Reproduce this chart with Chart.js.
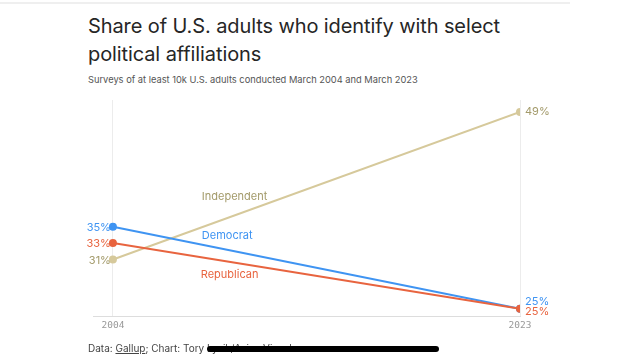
<!DOCTYPE html>
<html>
<head>
<meta charset="utf-8">
<script src="https://cdn.jsdelivr.net/npm/chart.js@4"></script>
<style>
  body { margin: 0; background: #fff; width: 640px; height: 360px; overflow: hidden; position: relative; font-family: Inter, "Open Sans", sans-serif; }
  .topline { position: absolute; left: 0; top: 2px; width: 570px; height: 2px; background: #efefef; }
  h1 { position: absolute; left: 88px; top: 12px; margin: 0; font-size: 20px; font-weight: 400; line-height: 28px; color: #262626; letter-spacing: -0.1px; width: 430px; }
  .sub { position: absolute; left: 88px; top: 74px; font-size: 9.3px; color: #555; }
  .foot { position: absolute; left: 88px; top: 342px; font-size: 10px; color: #444; }
  .foot u { text-decoration: underline; }
  .bar { position: absolute; left: 207px; top: 346px; width: 232px; height: 6px; border-radius: 3px; background: #000; }
  #wrap { position: absolute; left: 0; top: 0; width: 640px; height: 360px; }
</style>
</head>
<body>
<div class="topline"></div>
<h1>Share of U.S. adults who identify with select political affiliations</h1>
<div class="sub">Surveys of at least 10k U.S. adults conducted March 2004 and March 2023</div>
<div id="wrap"><canvas id="myChart" width="640" height="360"></canvas></div>
<div class="foot">Data: <u>Gallup</u>; Chart: Tory Lysik/Axios Visuals</div>
<div class="bar"></div>
<script>
const years = [2004, 2023];
const seriesNames = ["Independent", "Democrat", "Republican"];
const independent = [31, 49];
const democrat = [35, 25];
const republican = [33, 25];
const lineColors = ["#d6c99b", "#3f94f2", "#e8643f"];
const textColors = ["#a39a6a", "#3f94f2", "#e8643f"];

function pts(vals) {
  return years.map((y, i) => ({x: y, y: vals[i]}));
}

const labelPlugin = {
  id: "labels",
  afterDatasetsDraw(chart) {
    const ctx = chart.ctx;
    const xs = chart.scales.x, ys = chart.scales.y;
    ctx.save();
    ctx.font = "11px Inter, 'Open Sans', sans-serif";
    ctx.textBaseline = "middle";
    // end value labels
    const endDy = [0, -7, 3];
    chart.data.datasets.forEach((ds, i) => {
      const meta = chart.getDatasetMeta(i);
      const a = meta.data[0], b = meta.data[1];
      ctx.fillStyle = textColors[i];
      ctx.textAlign = "right";
      ctx.fillText(ds.data[0].y + "%", a.x - 2, a.y + 1);
      ctx.textAlign = "left";
      ctx.fillText(ds.data[1].y + "%", b.x + 5, b.y + endDy[i]);
    });
    // series names
    const namePos = [[2008.15, 38.7], [2008.15, 33.95], [2008.1, 29.1]];
    ctx.textAlign = "left";
    seriesNames.forEach((n, i) => {
      ctx.fillStyle = textColors[i];
      ctx.fillText(n, xs.getPixelForValue(namePos[i][0]), ys.getPixelForValue(namePos[i][1]));
    });
    ctx.restore();
  }
};

new Chart("myChart", {
  type: "line",
  data: {
    datasets: [independent, democrat, republican].map((v, i) => ({
      label: seriesNames[i],
      data: pts(v),
      order: 2 - i,
      borderColor: lineColors[i],
      backgroundColor: lineColors[i],
      borderWidth: 2,
      pointRadius: 3,
      pointHoverRadius: 3
    }))
  },
  options: {
    responsive: false,
    animation: false,
    layout: { padding: { left: 93, right: 120, top: 100, bottom: 26 } },
    plugins: { legend: { display: false }, tooltip: { enabled: false } },
    scales: {
      x: {
        type: "linear",
        min: 2003.07,
        max: 2023,
        afterBuildTicks: (axis) => { axis.ticks = years.map(v => ({value: v})); },
        grid: { color: "#ececec", drawTicks: false },
        border: { color: "#dddddd" },
        ticks: {
          padding: 3,
          color: "#999",
          font: { family: "'DejaVu Sans Mono', monospace", size: 9.5 },
          callback: (v) => String(v)
        }
      },
      y: {
        display: false,
        min: 24.03,
        max: 50.45
      }
    }
  },
  plugins: [labelPlugin]
});
</script>
</body>
</html>
